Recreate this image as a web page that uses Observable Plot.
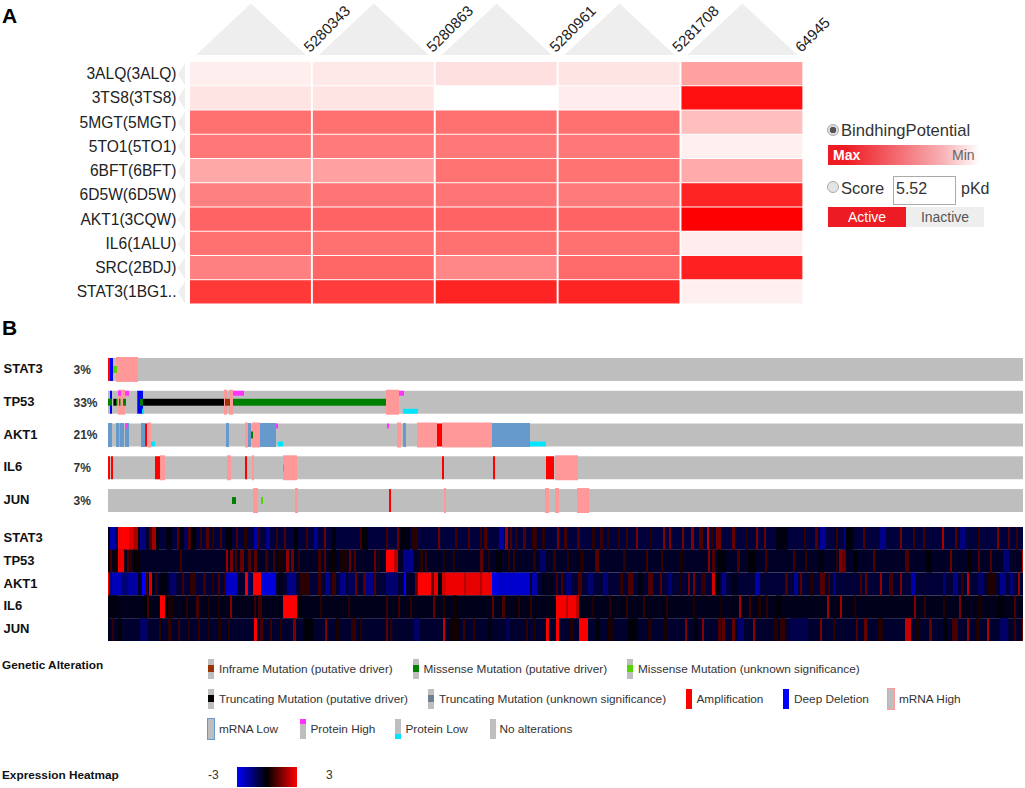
<!DOCTYPE html>
<html><head><meta charset="utf-8">
<script src="https://cdn.jsdelivr.net/npm/d3@7"></script>
<script src="https://cdn.jsdelivr.net/npm/@observablehq/plot@0.6"></script>
<style>
html,body{margin:0;padding:0;background:#fff}
#page{position:relative;width:1025px;height:788px;overflow:hidden;font-family:"Liberation Sans",Arial,sans-serif;color:#222}
#page svg{position:absolute;overflow:visible;background:transparent}
.abs{position:absolute;white-space:nowrap;line-height:1}
.sw{position:absolute;width:6px;height:20px;background:#bebebe}
.sw i{position:absolute;left:0;width:100%;display:block}
</style></head><body><div id="page"></div>
<script>
// ---------- Panel A ----------
const compounds = ["5280343","5280863","5280961","5281708","64945"];
const proteins = ["3ALQ(3ALQ)","3TS8(3TS8)","5MGT(5MGT)","5TO1(5TO1)","6BFT(6BFT)","6D5W(6D5W)","AKT1(3CQW)","IL6(1ALU)","SRC(2BDJ)","STAT3(1BG1.."];
const potential3ALQ = [.065,.09,.12,.105,.37];
const potential3TS8 = [.105,.105,0,.07,.94];
const potential5MGT = [.56,.56,.56,.56,.25];
const potential5TO1 = [.53,.52,.53,.53,.06];
const potential6BFT = [.34,.37,.55,.55,.33];
const potential6D5W = [.5,.54,.54,.52,.86];
const potentialAKT1 = [.61,.61,.61,.61,1];
const potentialIL6  = [.56,.56,.56,.56,.07];
const potentialSRC  = [.5,.6,.47,.58,.87];
const potentialSTAT3= [.78,.76,.86,.86,.06];
const potentials = [potential3ALQ,potential3TS8,potential5MGT,potential5TO1,potential6BFT,potential6D5W,potentialAKT1,potentialIL6,potentialSRC,potentialSTAT3];

// ---------- Panel B: oncoprint ----------
const genes = ["STAT3","TP53","AKT1","IL6","JUN"];
const alteredPct = ["3%","33%","21%","7%","3%"];
const sampleColumns = 915;
const amplification = [["STAT3",0,1.5],["AKT1",37,39],["AKT1",329,334],["IL6",0,2],["IL6",3,5],["IL6",47,52],["IL6",137,139],["IL6",334,336],["IL6",385,387],["IL6",438,446],["JUN",281,283],["TP53",29,30]];
const deepDeletion = [["STAT3",1.5,5],["TP53",2,4],["TP53",30,35]];
const mrnaHigh = [["STAT3",8,30],["TP53",10,17],["TP53",116,119],["TP53",121,125],["TP53",278,291],["AKT1",39,43],["AKT1",137,140],["AKT1",144,152],["AKT1",289,293],["AKT1",309,329],["AKT1",334,384],["IL6",52,57],["IL6",119,123],["IL6",144,146],["IL6",175,189],["IL6",447,470],["JUN",145,150],["JUN",187,190],["JUN",336,338],["JUN",437,441],["JUN",447,451],["JUN",469,481]];
const mrnaLow = [["AKT1",0,4],["AKT1",8,11.5],["AKT1",12,16],["AKT1",17,21],["AKT1",33,37],["AKT1",118,121],["AKT1",140,143],["AKT1",152,168],["AKT1",295,298],["AKT1",384,422]];
const proteinHigh = [["TP53",10,13],["TP53",17,21],["TP53",125,136],["TP53",291,296],["AKT1",18,19.5],["AKT1",168,170],["AKT1",279,281]];
const proteinLow = [["TP53",34,36],["TP53",295,310],["AKT1",43,47],["AKT1",170,175],["AKT1",422,438]];
const missenseDriver = [["TP53",0,4],["TP53",5,6],["TP53",8,9.5],["TP53",11,12.5],["TP53",15,18],["TP53",32,35],["TP53",125,278],["AKT1",143,145],["JUN",124,128]];
const missenseUnknown = [["STAT3",5,9],["IL6",175,176],["JUN",153,155]];
const truncatingDriver = [["TP53",6,8],["TP53",35,116]];
const inframeDriver = [["TP53",117,122]];

// ---------- Panel B: expression heatmap, [first column, last column, z-score] ----------
const exprBackground = [-.7,-.45,-.65,-.3,-.55];
const exprSTAT3 = [[0,2,-.3],[2,7,-2],[7,10,-1],[10,21,3],[21,25,2.6],[25,30,2],[30,32,-.2],[32,38,-1.5],[38,41,-.5],[41,44,.9],[44,48,1.9],[48,51,-.2],[58,64,-.2],[69,71,1],[71,76,-.2],[76,80,-1.1],[80,83,.9],[83,88,-.1],[92,94,.7],[98,101,1],[104,106,.6],[112,114,.9],[118,124,-.1],[128,130,.9],[136,139,.5],[146,150,-2],[150,152,.7],[158,162,-1.6],[168,170,.7],[176,178,1],[186,190,-.1],[198,200,.8],[206,210,-1.6],[216,218,1.3],[224,228,-.2],[252,254,.8],[254,260,-.1],[278,280,.8],[289,291,1.2],[292,302,-.2],[304,310,.5],[330,332,1.3],[347,349,.8],[360,362,.9],[372,374,.7],[376,379,.9],[391,396,-2],[397,400,1.8],[402,404,.9],[407,410,.6],[415,418,1],[424,429,.6],[434,437,.5],[449,451,1.4],[456,459,.8],[469,472,.9],[484,487,.5],[492,495,.7],[499,502,.5],[510,512,.6],[518,520,.7],[528,530,1.4],[542,544,.5],[555,557,1.6],[561,563,1.5],[574,576,1.4],[583,586,1.6],[591,595,.9],[599,601,2.2],[603,605,.6],[608,613,1.3],[624,627,1.2],[637,640,.5],[648,650,1.5],[656,658,1.2],[668,680,-.2],[696,698,.6],[707,710,1],[712,718,-1.8],[728,730,.7],[736,738,-1.6],[738,745,-.1],[755,757,.9],[772,778,-1.6],[792,794,1.4],[805,807,.7],[815,817,.8],[834,836,2],[847,849,1],[852,857,-1.5],[870,872,.6],[889,891,1.5],[900,902,1],[908,910,.7]];
const exprTP53 = [[0,2,-.1],[2,4,.8],[5,9,.2],[10,16,2.8],[16,18,.4],[19,21,.9],[22,24,.6],[26,32,.1],[72,74,.8],[118,120,1.8],[122,125,1.4],[127,129,.8],[132,136,1.2],[140,143,1],[146,149,1.1],[157,160,.7],[165,167,.7],[170,176,.3],[178,181,1.7],[183,186,1.3],[190,192,.6],[210,213,.8],[216,218,1],[222,228,.1],[232,240,.3],[241,243,1.2],[246,248,.9],[266,268,1.2],[269,272,.4],[278,286,3],[286,290,2.2],[295,305,-1.6],[312,315,.5],[317,319,.6],[335,337,.4],[345,347,.5],[372,375,1.1],[380,382,.5],[388,394,-.1],[400,402,.5],[405,407,.6],[425,428,.5],[432,438,-1.2],[445,448,.6],[459,461,.5],[472,476,.4],[487,491,1],[515,518,.5],[538,540,.8],[553,555,.6],[572,575,.3],[600,602,1.6],[604,607,.9],[610,618,-.1],[629,632,.9],[640,648,-.1],[657,659,.8],[685,687,.7],[697,699,.6],[710,716,-.2],[728,730,.6],[731,734,1.5],[734,738,1.2],[745,749,-.1],[765,767,.9],[797,801,.9],[818,824,-.1],[842,844,1.3],[860,864,.1],[870,872,1],[882,884,1],[895,901,-1.4],[914,915,2.2]];
const exprAKT1 = [[0,1,3],[1,4,-1.4],[4,14,-2.2],[14,20,-1.4],[20,30,-1.9],[30,34,-.5],[34,38,-3],[38,40,.9],[41,44,2.6],[44,46,-.1],[47,50,.6],[52,60,-.2],[62,68,-1.2],[74,76,.8],[82,88,.6],[95,98,.8],[104,106,.5],[110,112,.9],[116,118,.6],[118,129,-2.3],[129,136,-.5],[137,140,2.8],[140,143,-1.2],[145,153,3],[153,168,-2.6],[170,175,-.3],[179,188,-1.5],[192,202,.5],[210,213,.8],[217,222,-1.6],[224,228,.7],[232,238,-1.6],[240,248,-1],[247,249,1.2],[255,258,1],[258,265,-1.6],[266,268,.9],[278,290,-1.3],[296,298,-3],[298,306,-.5],[307,310,1.2],[310,323,3],[323,326,1.2],[326,330,2.7],[330,334,-.2],[334,338,2.4],[338,356,2.8],[356,358,2.1],[358,372,2.7],[372,374,2.1],[374,384,2.8],[384,390,-2.7],[390,422,-2.4],[424,429,-2],[433,445,-.3],[448,450,.8],[453,455,.9],[458,463,-1.4],[470,474,.9],[480,485,-1.3],[495,500,-1.4],[512,515,.6],[520,525,.9],[530,535,-.2],[540,545,.9],[552,554,1.1],[560,564,-1.3],[572,574,.4],[580,582,1.4],[585,587,1.4],[593,598,.6],[604,607,2.5],[608,612,-.1],[614,618,-1.6],[624,630,-.3],[647,652,-2],[656,660,-.6],[677,680,.9],[686,690,-1.7],[692,694,1.1],[702,706,.4],[712,717,1],[720,722,.7],[725,728,-1.5],[752,754,.9],[757,759,1.2],[772,774,1.8],[781,785,.8],[792,794,1.5],[803,807,-2],[835,838,-1.4],[845,850,-1.5],[853,856,.6],[859,861,2.2],[870,875,-1.2],[880,888,.4],[892,898,-1.6],[902,905,-1.5],[910,912,1.8]];
const exprIL6 = [[0,10,-.2],[36,40,-.1],[39,41,.8],[52,57,3],[57,60,-.1],[60,66,.3],[78,80,.5],[88,91,.8],[100,102,.4],[110,112,.4],[122,124,1.6],[146,148,.7],[150,154,.7],[175,189,3],[190,194,-.1],[212,214,.5],[240,242,.5],[278,280,.7],[290,292,.8],[302,304,.6],[325,327,1.2],[335,337,.5],[345,349,.2],[384,386,1.1],[394,397,.9],[410,412,.5],[422,424,.6],[448,471,2.9],[458,460,2.3],[468,471,2.2],[484,486,.4],[501,503,.5],[518,520,.6],[535,537,.6],[558,560,.5],[585,587,.4],[612,614,.3],[631,633,1.9],[641,643,.7],[650,653,.4],[658,660,.5],[668,674,-.1],[719,721,1.9],[732,734,1.9],[746,748,.4],[806,808,1.5],[816,818,.6],[835,837,.4],[851,853,1.4],[870,874,.3],[890,895,-.1],[906,908,.9]];
const exprJUN = [[0,2,-.2],[4,6,.6],[10,13,-.1],[32,40,-1.2],[51,53,.5],[60,63,.6],[70,72,.7],[80,82,.5],[90,92,.6],[100,102,.4],[110,113,.4],[120,122,.5],[146,149,3],[152,155,.8],[162,164,.7],[172,174,.5],[185,188,1.5],[195,205,-.1],[217,219,1.5],[228,232,.3],[243,248,.6],[252,254,.5],[278,280,1.1],[282,284,.6],[306,312,-1.2],[335,337,2.4],[342,352,.2],[355,357,.7],[365,367,.6],[380,384,-.2],[398,402,-1],[418,420,.6],[425,428,.4],[438,441,2.9],[448,451,3],[462,466,.4],[471,480,2.9],[488,492,-.1],[500,506,.3],[520,530,-.1],[540,544,.4],[556,560,.3],[577,579,1.5],[585,590,-.1],[594,596,1.6],[610,613,.9],[614,617,1.1],[624,627,1.2],[630,636,-1.3],[645,647,1.6],[665,670,.4],[672,677,.6],[682,700,-.9],[712,714,1.5],[725,728,.5],[748,750,.9],[756,759,1.2],[770,775,.4],[797,803,2.3],[808,812,.3],[821,824,1.2],[835,840,-.1],[844,850,.8],[859,861,1.8],[868,872,.4],[879,881,2],[892,900,-1.2],[906,908,.7],[914,915,1.2]];
const exprRuns = [exprSTAT3,exprTP53,exprAKT1,exprIL6,exprJUN];

// ---------- Legend ----------
const legendColors = {inframe:"#993404",missense:"#008000",missenseU:"#53d400",trunc:"#000000",truncU:"#708090",amp:"#ff0000",del:"#0000ff",high:"#ff9999",low:"#6699cc",pHigh:"#ff33ff",pLow:"#00e5ff"};
const legendItems = [
 ["Inframe Mutation (putative driver)","inframe",208,219,669],["Missense Mutation (putative driver)","missense",413,423.5,669],["Missense Mutation (unknown significance)","missenseU",627,638,669],
 ["Truncating Mutation (putative driver)","trunc",208,219,699],["Truncating Mutation (unknown significance)","truncU",428,439,699],["Amplification","amp",686,696.5,699],["Deep Deletion","del",783,794,699],["mRNA High","high",888,899,699],
 ["mRNA Low","low",208,219,729],["Protein High","pHigh",300,310.5,729],["Protein Low","pLow",395,405.5,729],["No alterations",null,490,499.5,729]
];

const page = document.getElementById("page");
const FONT = '"Liberation Sans",Arial,sans-serif';
function place(svg,left,top){svg.style.left=left+"px";svg.style.top=top+"px";page.appendChild(svg);}
function html(text,left,top,css){const d=document.createElement("div");d.className="abs";d.textContent=text;d.style.cssText=`left:${left}px;top:${top}px;${css||""}`;page.appendChild(d);return d;}

// Panel A
const cells = proteins.flatMap((p,i)=>compounds.map((c,j)=>({protein:p,compound:c,value:potentials[i][j]})));
const roof = {draw(ctx){ctx.moveTo(0,-51.5);ctx.lineTo(55,0);ctx.lineTo(-55,0);ctx.closePath();}};
const notch = {draw(ctx){ctx.moveTo(-3.5,0);ctx.lineTo(3.5,-11);ctx.lineTo(3.5,11);ctx.closePath();}};
place(Plot.plot({
  width:802.4,height:303.5,marginLeft:190,marginRight:0,marginTop:62,marginBottom:0,
  style:{fontFamily:FONT,background:"transparent"},
  x:{domain:compounds,paddingInner:.016,paddingOuter:0,round:false,axis:null},
  y:{domain:proteins,paddingInner:.04,paddingOuter:0,round:false,axis:null},
  color:{type:"linear",domain:[0,1],range:["#ffffff","#ff0000"]},
  marks:[
    Plot.cell(cells,{x:"compound",y:"protein",fill:"value"}),
    Plot.dot(compounds,{x:d=>d,frameAnchor:"top",dy:-7.5,r:1,symbol:roof,fill:"#eeeeee",stroke:null}),
    Plot.dot(proteins,{y:d=>d,frameAnchor:"left",dx:-9,r:1,symbol:notch,fill:"#eeeeee",stroke:null}),
    Plot.text(compounds,{x:d=>d,text:d=>d,frameAnchor:"top",rotate:-45,textAnchor:"start",dx:51.5,dy:-17,fontSize:15,fill:"#222"}),
    Plot.text(proteins,{y:d=>d,text:d=>d,frameAnchor:"left",textAnchor:"end",dx:-14,fontSize:15.6,fill:"#222"})
  ]
}),0,0);

// Oncoprint
const alt = (rows,fill,o={})=>Plot.barX(rows,{x1:d=>d[1],x2:d=>d[2],y:d=>d[0],fill,...o});
const c = legendColors;
place(Plot.plot({
  width:1023,height:160,marginLeft:108,marginRight:0,marginTop:3,marginBottom:3,
  style:{fontFamily:FONT,background:"transparent"},
  x:{domain:[0,sampleColumns],axis:null},
  y:{domain:genes,paddingInner:.3,paddingOuter:0,round:false,axis:null},
  marks:[
    Plot.barX(genes,{x1:()=>0,x2:()=>sampleColumns,y:d=>d,fill:"#bebebe"}),
    alt(mrnaHigh,c.high,{insetTop:-1,insetBottom:-1}),
    alt(mrnaLow,c.low,{insetTop:-.5,insetBottom:-.5}),
    alt(amplification,c.amp),
    alt(deepDeletion,c.del),
    alt(proteinHigh,c.pHigh,{insetBottom:18}),
    alt(proteinLow,c.pLow,{insetTop:18}),
    alt(missenseDriver,c.missense,{insetTop:8,insetBottom:8}),
    alt(missenseUnknown,c.missenseU,{insetTop:8,insetBottom:8}),
    alt(truncatingDriver,c.trunc,{insetTop:8,insetBottom:8}),
    alt(inframeDriver,c.inframe,{insetTop:8,insetBottom:8}),
    Plot.text(genes,{y:d=>d,text:d=>d,frameAnchor:"left",textAnchor:"start",dx:-105,dy:-1,fontWeight:"bold",fontSize:13,fill:"#111"}),
    Plot.text(genes,{y:d=>d,text:(d,i)=>alteredPct[i],frameAnchor:"left",textAnchor:"start",dx:-35,fontWeight:"bold",fontSize:12,fill:"#333"})
  ]
}),0,355);

// Expression heatmap
const exprBars = genes.flatMap((g,i)=>[{gene:g,a:0,b:sampleColumns,v:exprBackground[i]},...exprRuns[i].map(r=>({gene:g,a:r[0],b:r[1],v:r[2]}))]);
place(Plot.plot({
  width:1023,height:114,marginLeft:108,marginRight:0,marginTop:0,marginBottom:0,
  style:{fontFamily:FONT,background:"transparent"},
  x:{domain:[0,sampleColumns],axis:null},
  y:{domain:genes,padding:0,round:false,axis:null},
  color:{type:"linear",domain:[-3,0,3],range:["#0000ff","#000000","#ff0000"]},
  marks:[
    Plot.barX(exprBars,{x1:"a",x2:"b",y:"gene",fill:"v"}),
    Plot.text(genes,{y:d=>d,text:d=>d,frameAnchor:"left",textAnchor:"start",dx:-105,dy:-1,fontWeight:"bold",fontSize:13,fill:"#111"})
  ]
}),0,527);

// Labels
html("A",2,5,"font-size:21px;font-weight:bold;color:#000");
html("B",2,317,"font-size:21px;font-weight:bold;color:#000");

// Side legend
function radio(cx,cy,on){const d=document.createElement("div");d.style.cssText=`position:absolute;left:${cx-6}px;top:${cy-6}px;width:10px;height:10px;border-radius:50%;border:1px solid #aaa;background:${on?"radial-gradient(circle,#555 0 3px,#ddd 3.5px)":"#e4e4e4"}`;page.appendChild(d);}
radio(833,130,true);
html("BindhingPotential",841,123,"font-size:16.6px;color:#333");
const grad=html("",828,145,"width:152px;height:20px;background:linear-gradient(to right,#ed1c24 0%,#ed1c24 12%,#f8b0b4 75%,#fff 100%)");
html("Max",833,148,"font-size:14px;font-weight:bold;color:#fff");
html("Min",952,148,"font-size:14px;color:#666");
radio(833,187,false);
html("Score",841,181,"font-size:16.6px;color:#333");
html("5.52",896,181,"box-sizing:border-box;font-size:16px;color:#333");
html("",893,176,"box-sizing:border-box;width:63px;height:29px;border:1px solid #aaa");
html("pKd",961,181,"font-size:16px;color:#333");
html("Active",828,207,"box-sizing:border-box;width:78px;height:20px;background:#ed1c24;color:#fff;font-size:14px;text-align:center;padding-top:3px");
html("Inactive",906,207,"box-sizing:border-box;width:78px;height:20px;background:#eeeeee;color:#555;font-size:14px;text-align:center;padding-top:3px");

// Oncoprint legend
html("Genetic Alteration",2,660,"font-size:11.8px;font-weight:bold;color:#111");
html("Expression Heatmap",2,770,"font-size:11.8px;font-weight:bold;color:#111");
for(const [label,key,sx,lx,cy] of legendItems){
  const s=document.createElement("div");s.className="sw";s.style.left=sx+"px";s.style.top=(cy-10)+"px";
  if(["inframe","missense","missenseU","trunc","truncU"].includes(key)) s.innerHTML=`<i style="top:6px;height:7px;background:${c[key]}"></i>`;
  if(["amp","del"].includes(key)) s.style.background=c[key];
  if(["high","low"].includes(key)){s.style.boxSizing="content-box";s.style.border=`1.5px solid ${c[key]}`;s.style.left=(sx-1)+"px";s.style.top=(cy-11)+"px";}
  if(key==="pHigh") s.innerHTML=`<i style="top:0;height:5px;background:${c.pHigh}"></i>`;
  if(key==="pLow") s.innerHTML=`<i style="bottom:0;height:5px;background:${c.pLow}"></i>`;
  page.appendChild(s);
  html(label,lx,cy-5.5,"font-size:11.8px;color:#333");
}
html("-3",208,769,"font-size:12px;color:#333");
html("",237,767,"width:60px;height:20px;background:linear-gradient(to right,#0000ff,#000000 50%,#ff0000)");
html("3",326,769,"font-size:12px;color:#333");
</script></body></html>
